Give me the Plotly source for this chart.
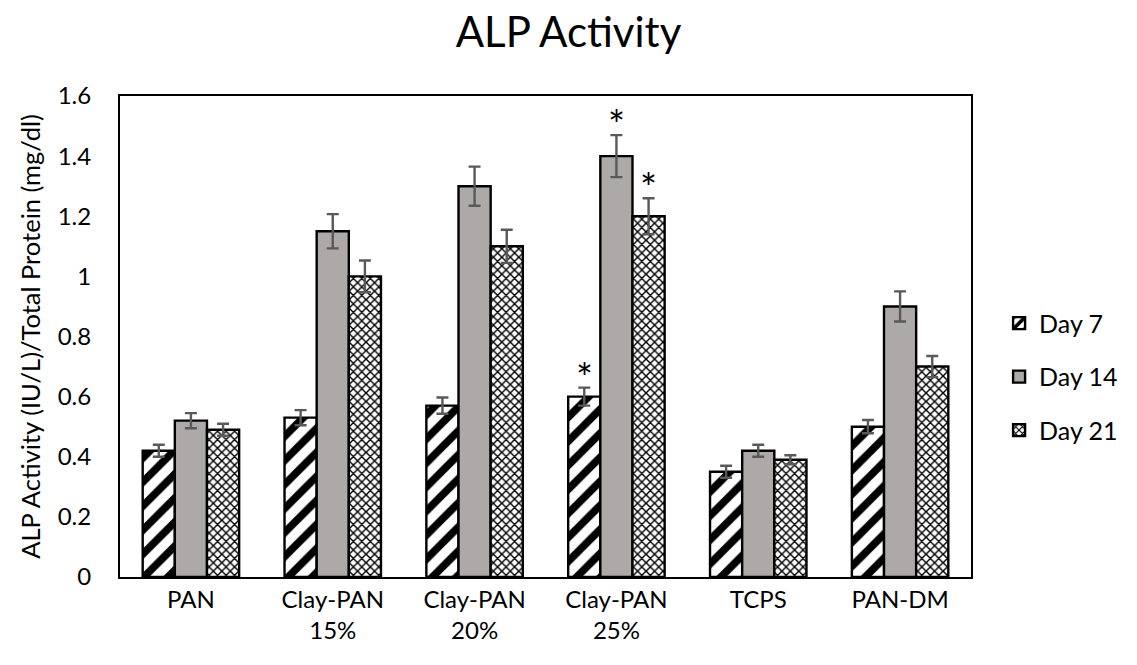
import plotly.graph_objects as go

categories = ["PAN", "Clay-PAN<br>15%", "Clay-PAN<br>20%", "Clay-PAN<br>25%", "TCPS", "PAN-DM"]
day7 = [0.42, 0.53, 0.57, 0.60, 0.35, 0.50]
day14 = [0.52, 1.15, 1.30, 1.40, 0.42, 0.90]
day21 = [0.49, 1.00, 1.10, 1.20, 0.39, 0.70]
err7 = [0.02, 0.025, 0.027, 0.03, 0.02, 0.022]
err14 = [0.025, 0.057, 0.065, 0.07, 0.02, 0.05]
err21 = [0.02, 0.053, 0.055, 0.06, 0.015, 0.035]
y_ticks = [0, 0.2, 0.4, 0.6, 0.8, 1.0, 1.2, 1.4, 1.6]

# significance marks: (series index, category index)
significant = [(0, 3), (1, 3), (2, 3)]

font_family = "Lato, 'Open Sans', sans-serif"
err_style = dict(type="data", color="#595959", thickness=2.4, width=6)
outline = dict(color="black", width=2.4)

series = [
    dict(name="Day 7", y=day7, e=err7,
         marker=dict(color="white", line=outline,
                     pattern=dict(shape="/", fgcolor="black", bgcolor="white",
                                  fgopacity=1, size=17, solidity=0.45))),
    dict(name="Day 14", y=day14, e=err14,
         marker=dict(color="#ADA9A9", line=outline)),
    dict(name="Day 21", y=day21, e=err21,
         marker=dict(color="white", line=outline,
                     pattern=dict(shape="x", fgcolor="black", bgcolor="white",
                                  fgopacity=1, size=6, solidity=0.42))),
]

fig = go.Figure()
for s in series:
    fig.add_trace(go.Bar(
        x=categories, y=s["y"], name=s["name"], marker=s["marker"],
        legendgroup=s["name"],
        error_y=dict(array=s["e"], **err_style),
    ))

for si, ci in significant:
    s = series[si]
    fig.add_annotation(
        x=categories[ci], y=s["y"][ci] + s["e"][ci], text="*",
        showarrow=False, yanchor="bottom", yshift=-16,
        xshift=(si - 1) * 32,
        font=dict(size=40, color="black", family=font_family),
    )

fig.update_layout(
    width=1137, height=665,
    margin=dict(l=120, r=166, t=96, b=88, autoexpand=False),
    paper_bgcolor="white", plot_bgcolor="white",
    barmode="group", bargap=0.32, bargroupgap=0,
    title=dict(text="ALP Activity", x=0.5, xanchor="center", y=0.952,
               yanchor="middle", xref="container",
               font=dict(size=42, color="black", family=font_family)),
    font=dict(family=font_family, color="black", size=24),
    legend=dict(x=1.033, y=0.416, xanchor="left", yanchor="middle",
                font=dict(size=25), tracegroupgap=18, itemwidth=30),
    showlegend=True,
)
fig.update_xaxes(showline=True, linecolor="black", linewidth=2, mirror=True,
                 ticks="", tickfont=dict(size=24), showgrid=False)
fig.update_yaxes(range=[0, 1.6], tickvals=y_ticks, showline=True, linecolor="black",
                 linewidth=2, mirror=True, ticks="", showgrid=False, zeroline=False,
                 tickfont=dict(size=24), ticklabelstandoff=22,
                 title=dict(text="ALP Activity (IU/L)/Total Protein (mg/dl)",
                            font=dict(size=25.5), standoff=10))

fig.write_html("out.html")
